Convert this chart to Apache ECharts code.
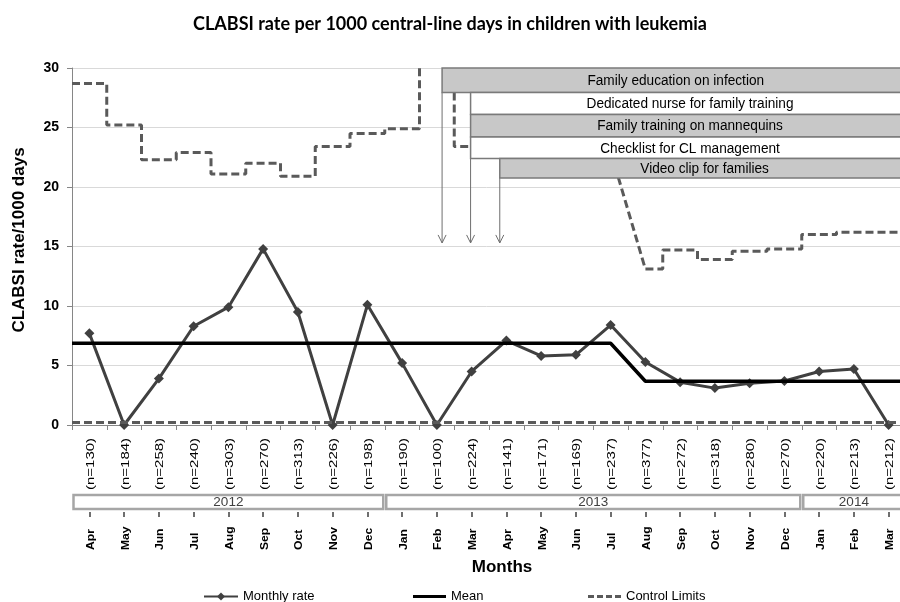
<!DOCTYPE html>
<html><head><meta charset="utf-8">
<script src="https://cdn.jsdelivr.net/npm/echarts@6/dist/echarts.min.js"></script>
<style>html,body{margin:0;padding:0;background:#fff}#c{width:900px;height:602px}</style>
</head><body><div id="c"></div>
<script>
const months = ['Apr','May','Jun','Jul','Aug','Sep','Oct','Nov','Dec','Jan','Feb','Mar','Apr','May','Jun','Jul','Aug','Sep','Oct','Nov','Dec','Jan','Feb','Mar'];
const lineDays = [130,184,258,240,303,270,313,226,198,190,100,224,141,171,169,237,377,272,318,280,270,220,213,212];
const monthlyRate = [7.7,0,3.9,8.3,9.9,14.8,9.5,0,10.1,5.2,0,4.5,7.1,5.8,5.9,8.4,5.3,3.6,3.1,3.5,3.7,4.5,4.7,0];
const meanRate = [6.87,6.87,6.87,6.87,6.87,6.87,6.87,6.87,6.87,6.87,6.87,6.87,6.87,6.87,6.87,6.87,3.68,3.68,3.68,3.68,3.68,3.68,3.68,3.68];
const upperLimit = [28.7,25.2,22.3,22.9,21.1,22.0,20.9,23.4,24.5,24.9,31.7,23.4,27.8,25.8,25.9,23.0,13.1,14.7,13.9,14.6,14.8,16.0,16.2,16.2];
const lowerLimit = [0.2,0.2,0.2,0.2,0.2,0.2,0.2,0.2,0.2,0.2,0.2,0.2,0.2,0.2,0.2,0.2,0.2,0.2,0.2,0.2,0.2,0.2,0.2,0.2];
const years = ['2012','2013','2014'];
const yearStart = [0,9,21];
const yearEnd = [9,21,24];
const interventionLabels = ['Family education on infection','Dedicated nurse for family training','Family training on mannequins','Checklist for CL management','Video clip for families'];
const interventionStart = [10.65,11.47,11.47,11.47,12.31];
const interventionRowEdges = [30,27.95,26.1,24.2,22.4,20.75];
const interventionEnd = 24.1;
const arrowX = [10.65,11.47,12.31];
const arrowTop = [27.95,22.4,20.75];
const arrowTip = 15.3;

const nLabels = lineDays.map(n => '(n=' + n + ')');
const phase = [];
meanRate.forEach((v,i)=>{ phase.push(i===0?0:(v!==meanRate[i-1]?phase[i-1]+1:phase[i-1])); });
function stepPoints(vals){
  const pts=[];
  for(let i=0;i<vals.length;i++){
    const l=(i>0&&phase[i]!==phase[i-1])?i+0.5:i;
    const r=(i<vals.length-1&&phase[i]!==phase[i+1])?i+0.5:i+1;
    pts.push([l,vals[i]],[r,vals[i]]);
  }
  return pts;
}
function centerPoints(vals){
  const pts=[[0,vals[0]]];
  vals.forEach((v,i)=>pts.push([i+0.5,v]));
  pts.push([vals.length,vals[vals.length-1]]);
  return pts;
}
const AR='"Liberation Sans", Arial, sans-serif';
const chart = echarts.init(document.getElementById('c'), null, {renderer:'canvas'});
const ctrlStyle = {color:'#5a5a5a', width:3, type:[8,4]};
const legendText = {fontFamily:AR, fontSize:13, color:'#000'};
chart.setOption({
  animation:false,
  backgroundColor:'#fff',
  title:{text:'CLABSI rate per 1000 central-line days in children with leukemia', left:'center', top:10,
    textStyle:{fontFamily:'Lato', fontWeight:'bold', fontSize:18, color:'#000'}},
  grid:{left:72, top:68, width:834, height:357, containLabel:false, outerBoundsMode:'none'},
  legend:[
    {data:['Monthly rate'], left:203, top:590, padding:0, itemWidth:34, itemHeight:10, itemGap:0, textStyle:legendText},
    {data:[{name:'Mean', icon:'rect'}], left:413, top:590, padding:0, itemWidth:33, itemHeight:3, textStyle:legendText},
    {data:[{name:'Control Limits', icon:'path://M0,0h6v3h-6z M9,0h6v3h-6z M18,0h6v3h-6z M27,0h6v3h-6z'}], left:588, top:590, padding:0, itemWidth:33, itemHeight:3, textStyle:legendText}
  ],
  xAxis:[
    {type:'category', data:months, position:'bottom', boundaryGap:true,
      axisLine:{show:true, lineStyle:{color:'#868686', width:1}},
      axisTick:{show:true, length:5, lineStyle:{color:'#868686'}},
      axisLabel:{show:false}, splitLine:{show:false}},
    {type:'category', data:months, position:'bottom', offset:87, boundaryGap:true,
      axisLine:{show:false},
      axisTick:{show:true, alignWithLabel:true, length:5, lineStyle:{color:'#404040', width:1.5}},
      axisLabel:{show:false}, splitLine:{show:false}},
    {type:'value', min:0, max:24, show:false}
  ],
  yAxis:{type:'value', min:0, max:30, interval:5,
    axisLine:{show:true, lineStyle:{color:'#868686'}},
    axisTick:{show:true, length:5, lineStyle:{color:'#868686'}},
    axisLabel:{fontFamily:AR, fontWeight:'bold', fontSize:14, color:'#000', margin:13},
    splitLine:{show:true, lineStyle:{color:'#d9d9d9', width:1}}},
  graphic:[
    {type:'text', x:19, y:240, rotation:Math.PI/2, style:{text:'CLABSI rate/1000 days', font:'bold 17px '+AR, fill:'#000', align:'center', textAlign:'center', verticalAlign:'middle', textVerticalAlign:'middle'}},
    {type:'text', x:502, y:567, style:{text:'Months', font:'bold 17px '+AR, fill:'#000', align:'center', textAlign:'center', verticalAlign:'middle', textVerticalAlign:'middle'}}
  ],
  series:[
    {name:'Monthly rate', type:'line', xAxisIndex:0, data:monthlyRate, symbol:'diamond', symbolSize:10,
      lineStyle:{color:'#404040', width:3}, itemStyle:{color:'#404040'}, z:3},
    {name:'Mean', type:'line', xAxisIndex:2, data:centerPoints(meanRate), symbol:'none',
      lineStyle:{color:'#000', width:3.5}, itemStyle:{color:'#000'}, z:4},
    {name:'Control Limits', type:'line', xAxisIndex:2, data:stepPoints(upperLimit), symbol:'none',
      lineStyle:ctrlStyle, itemStyle:{color:'#5a5a5a'}, z:4},
    {name:'Control Limits', type:'line', xAxisIndex:2, data:stepPoints(lowerLimit), symbol:'none',
      lineStyle:ctrlStyle, itemStyle:{color:'#5a5a5a'}, z:4},
    {name:'arrows', type:'custom', xAxisIndex:2, silent:true, z:8, clip:false,
      data:arrowX.map((x,i)=>[x, arrowTop[i], arrowTip]),
      renderItem:function(params, api){
        const a=api.coord([api.value(0), api.value(1)]);
        const b=api.coord([api.value(0), api.value(2)]);
        return {type:'group', children:[
          {type:'line', shape:{x1:a[0], y1:a[1], x2:b[0], y2:b[1]}, style:{stroke:'#6e6e6e', lineWidth:1}},
          {type:'polyline', shape:{points:[[b[0]-4,b[1]-8],[b[0],b[1]],[b[0]+4,b[1]-8]]}, style:{stroke:'#6e6e6e', lineWidth:1, fill:null}}
        ]};
      }},
    {name:'interventions', type:'custom', xAxisIndex:2, silent:true, z:10, clip:false,
      data:interventionLabels.map((t,i)=>[interventionStart[i], interventionRowEdges[i], interventionEnd, interventionRowEdges[i+1]]),
      renderItem:function(params, api){
        const i=params.dataIndex;
        const p1=api.coord([api.value(0), api.value(1)]);
        const p2=api.coord([api.value(2), api.value(3)]);
        return {type:'group', children:[
          {type:'rect', shape:{x:p1[0], y:p1[1], width:p2[0]-p1[0], height:p2[1]-p1[1]}, style:{fill:i%2===0?'#c8c8c8':'#ffffff', stroke:'#7a7a7a', lineWidth:1.5}},
          {type:'text', x:(p1[0]+p2[0])/2, y:(p1[1]+p2[1])/2+0.5, scaleX:0.88, scaleY:1,
            style:{text:interventionLabels[i], fontFamily:AR, fontSize:15.5, fill:'#000', align:'center', verticalAlign:'middle'}}
        ]};
      }},
    {name:'years', type:'custom', xAxisIndex:2, silent:true, z:10, clip:false,
      data:years.map((y,i)=>[yearStart[i], yearEnd[i]]),
      renderItem:function(params, api){
        const i=params.dataIndex;
        const a=api.coord([api.value(0), 0]);
        const b=api.coord([api.value(1), 0]);
        const top=a[1]+70;
        return {type:'group', children:[
          {type:'rect', shape:{x:a[0]+1.5, y:top, width:b[0]-a[0]-3, height:14}, style:{fill:'#fff', stroke:'#a6a6a6', lineWidth:2.5}},
          {type:'text', x:(a[0]+b[0])/2, y:top+7.5, style:{text:years[i], fontFamily:AR, fontSize:13.5, fill:'#404040', align:'center', verticalAlign:'middle'}}
        ]};
      }},
    {name:'nlabels', type:'custom', xAxisIndex:2, silent:true, z:10, clip:false,
      data:lineDays.map((n,i)=>[i+0.5, 0]),
      renderItem:function(params, api){
        const p=api.coord([api.value(0), api.value(1)]);
        return {type:'text', x:p[0]+1.5, y:p[1]+13, rotation:Math.PI/2, scaleX:1.36, scaleY:1,
          style:{text:nLabels[params.dataIndex], fontFamily:AR, fontSize:11, fill:'#000', align:'right', verticalAlign:'middle'}};
      }},
    {name:'monthlabels', type:'custom', xAxisIndex:2, silent:true, z:10, clip:false,
      data:months.map((m,i)=>[i+0.5, 0]),
      renderItem:function(params, api){
        const p=api.coord([api.value(0), api.value(1)]);
        return {type:'text', x:p[0]+1.5, y:p[1]+125, rotation:Math.PI/2, scaleX:1.1, scaleY:1,
          style:{text:months[params.dataIndex], fontFamily:AR, fontWeight:'bold', fontSize:11, fill:'#000', align:'left', verticalAlign:'middle'}};
      }}
  ]
});
</script></body></html>
